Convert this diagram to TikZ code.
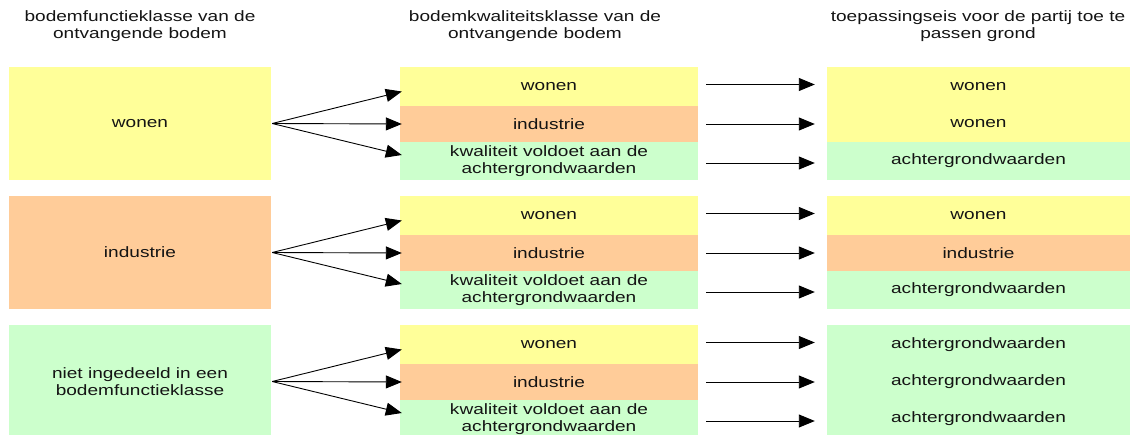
\documentclass[tikz,border=0pt]{standalone}
\usepackage{fontspec}
\setmainfont[FakeStretch=1.27]{Liberation Sans}
\usetikzlibrary{arrows.meta}
\definecolor{cyel}{HTML}{FFFF99}
\definecolor{corg}{HTML}{FFCC99}
\definecolor{cgrn}{HTML}{CCFFCC}
\definecolor{ctxt}{HTML}{141414}
\begin{document}
\begin{tikzpicture}[x=1pt,y=-1pt,
  font=\fontsize{15}{16.5}\selectfont, text=ctxt,
  base/.style={rectangle, inner sep=0pt, align=center},
  lbox/.style={base, minimum width=262pt, minimum height=113pt},
  mbox/.style={base, minimum width=298pt},
  rbox/.style={base, minimum width=303pt},
  ra/.style={minimum height=39pt},
  rb/.style={minimum height=36pt},
  rc/.style={minimum height=38pt},
  ye/.style={fill=cyel},
  og/.style={fill=corg},
  gr/.style={fill=cgrn},
  hdr/.style={align=center, inner sep=0pt},
  arr/.style={-{Triangle[length=16pt,width=13pt]}, line width=0.9pt, draw=black},
  fwd/.style={arr, shorten <=8pt, shorten >=12pt}
]
\useasboundingbox (0,0) rectangle (1130,434);

% headers
\node[hdr] (H1) at (140,26) {bodemfunctieklasse van de\\ontvangende bodem};
\node[hdr] (H2) at (535,26) {bodemkwaliteitsklasse van de\\ontvangende bodem};
\node[hdr] (H3) at (978,26) {toepassingseis voor de partij toe te\\passen grond};

% group 1
\node[lbox,ye] (L1) at (140,123.5) {wonen};
\node[mbox,ra,ye] (M1a) at (549,86.5) {wonen};
\node[mbox,rb,og] (M1b) at (549,124) {industrie};
\node[mbox,rc,gr] (M1c) at (549,161) {kwaliteit voldoet aan de\\achtergrondwaarden};
\node[rbox,ra,ye] (R1a) at (978.5,86.5) {wonen};
\node[rbox,rb,ye] (R1b) at (978.5,124) {wonen};
\node[rbox,rc,gr] (R1c) at (978.5,161) {achtergrondwaarden};

% group 2
\node[lbox,og] (L2) at (140,252.5) {industrie};
\node[mbox,ra,ye] (M2a) at (549,215.5) {wonen};
\node[mbox,rb,og] (M2b) at (549,253) {industrie};
\node[mbox,rc,gr] (M2c) at (549,290) {kwaliteit voldoet aan de\\achtergrondwaarden};
\node[rbox,ra,ye] (R2a) at (978.5,215.5) {wonen};
\node[rbox,rb,og] (R2b) at (978.5,253) {industrie};
\node[rbox,rc,gr] (R2c) at (978.5,290) {achtergrondwaarden};

% group 3
\node[lbox,gr] (L3) at (140,381.5) {niet ingedeeld in een\\bodemfunctieklasse};
\node[mbox,ra,ye] (M3a) at (549,344.5) {wonen};
\node[mbox,rb,og] (M3b) at (549,382) {industrie};
\node[mbox,rc,gr] (M3c) at (549,419) {kwaliteit voldoet aan de\\achtergrondwaarden};
\node[rbox,ra,gr] (R3a) at (978.5,344.5) {achtergrondwaarden};
\node[rbox,rb,gr] (R3b) at (978.5,382) {achtergrondwaarden};
\node[rbox,rc,gr] (R3c) at (978.5,419) {achtergrondwaarden};

% arrows
\foreach \g in {1,2,3}{
  \draw[arr] ([xshift=1pt]L\g.east) -- ([shift={(2,5)}]M\g a.west);
  \draw[arr] ([xshift=1pt]L\g.east) -- ([shift={(2,0)}]M\g b.west);
  \draw[arr] ([xshift=1pt]L\g.east) -- ([shift={(2,-6)}]M\g c.west);
  \draw[fwd] ([yshift=2pt]M\g a.east) -- ([yshift=2pt]R\g a.west);
  \draw[fwd] (M\g b.east) -- (R\g b.west);
  \draw[fwd] ([yshift=-2pt]M\g c.east) -- ([yshift=-2pt]R\g c.west);
}
\end{tikzpicture}
\end{document}
